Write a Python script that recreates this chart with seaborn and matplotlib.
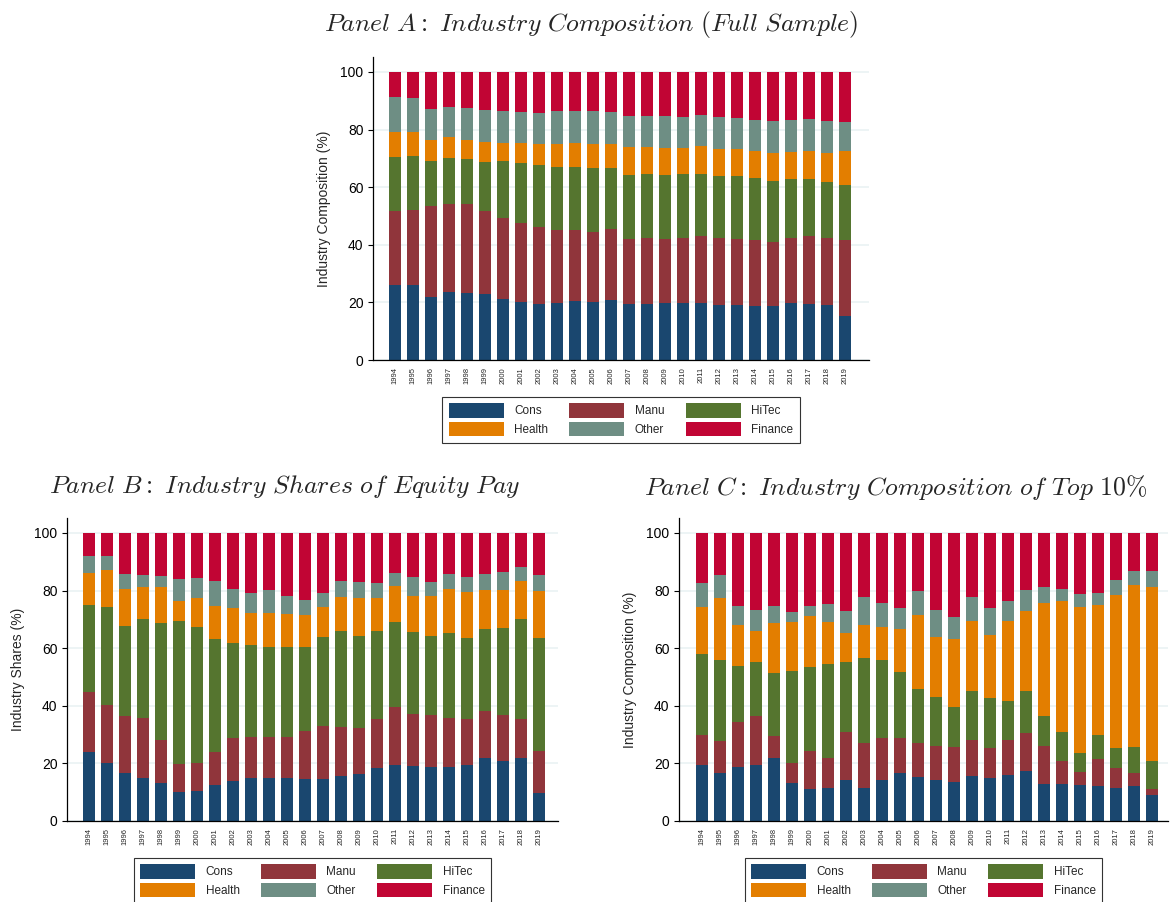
import numpy as np
import pandas as pd
import matplotlib
matplotlib.use("Agg")
import matplotlib.pyplot as plt
from matplotlib.patches import Patch
import seaborn as sns

sns.set_style("white")
plt.rcParams['font.family'] = ['Liberation Sans', 'DejaVu Sans']
plt.rcParams['mathtext.fontset'] = 'cm'

years = [str(y) for y in range(1994, 2020)]
industries = ["Cons", "Manu", "HiTec", "Health", "Other", "Finance"]
colors = ["#1a476f", "#90353b", "#55752f", "#e37e00", "#6e8e84", "#c10534"]

# Panel A: full sample (%)
a_cons = [26.0, 25.9, 22.0, 23.5, 23.2, 22.8, 21.3, 20.3, 19.5, 19.9, 20.6, 20.2, 20.9,
          19.3, 19.5, 19.7, 19.7, 19.8, 19.2, 19.1, 18.8, 18.8, 19.8, 19.5, 19.2, 15.4]
a_manu = [25.7, 26.2, 31.5, 30.5, 30.8, 28.9, 28.1, 27.2, 26.6, 25.2, 24.5, 24.2, 24.5,
          22.7, 22.8, 22.3, 22.7, 23.3, 23.2, 22.9, 22.8, 22.2, 22.6, 23.4, 23.3, 26.2]
a_hitec = [18.8, 18.9, 15.6, 16.3, 15.7, 17.1, 19.7, 20.9, 21.5, 21.8, 22.0, 22.3, 21.1,
           22.3, 22.3, 22.3, 22.1, 21.5, 21.6, 21.8, 21.6, 21.2, 20.3, 19.8, 19.3, 19.1]
a_health = [8.5, 8.2, 7.4, 7.0, 6.8, 6.9, 6.2, 6.9, 7.3, 8.2, 8.2, 8.4, 8.5,
            9.6, 9.2, 9.3, 9.0, 9.7, 9.4, 9.4, 9.3, 9.6, 9.6, 9.7, 10.0, 12.0]
a_other = [12.2, 11.8, 10.8, 10.7, 10.9, 11.0, 11.1, 10.7, 11.0, 11.3, 11.1, 11.3, 11.0,
           10.8, 10.9, 11.0, 10.8, 10.7, 11.0, 10.7, 11.0, 11.1, 11.1, 11.2, 11.3, 10.0]
a_finance = [8.8, 9.0, 12.7, 12.0, 12.6, 13.3, 13.6, 14.0, 14.1, 13.6, 13.6, 13.6, 14.0,
             15.3, 15.3, 15.4, 15.7, 15.0, 15.6, 16.1, 16.5, 17.1, 16.6, 16.4, 16.9, 17.3]

# Panel B: shares of equity pay (%)
b_cons = [24.0, 20.3, 16.7, 14.9, 13.2, 10.2, 10.4, 12.6, 13.9, 14.8, 15.0, 14.9, 14.7,
          14.7, 15.7, 16.4, 18.5, 19.4, 19.1, 18.6, 18.8, 19.4, 21.8, 20.9, 22.0, 9.6]
b_manu = [20.7, 20.1, 19.6, 21.0, 15.0, 9.7, 9.7, 11.5, 15.0, 14.4, 14.1, 14.3, 16.6,
          18.4, 16.9, 16.0, 16.9, 20.2, 18.2, 18.2, 17.1, 16.0, 16.5, 15.9, 13.3, 14.7]
b_hitec = [30.3, 33.9, 31.4, 34.4, 40.4, 49.5, 47.4, 39.0, 32.9, 31.9, 31.4, 31.2, 29.1,
           30.8, 33.4, 31.8, 30.6, 29.6, 28.4, 27.6, 29.4, 28.3, 28.4, 30.3, 34.8, 39.4]
b_health = [11.0, 12.7, 12.9, 10.8, 12.7, 6.9, 10.0, 11.7, 12.0, 11.0, 11.6, 11.5, 11.0,
            10.3, 11.8, 13.3, 11.5, 12.3, 12.5, 13.8, 15.1, 15.9, 13.5, 13.2, 13.2, 16.2]
b_other = [6.1, 5.1, 5.0, 4.4, 3.9, 7.7, 6.8, 8.5, 6.9, 7.1, 8.2, 6.1, 5.2,
           4.9, 5.5, 5.5, 5.3, 4.5, 6.5, 4.9, 5.4, 5.1, 5.6, 6.2, 4.9, 5.4]
b_finance = [7.9, 7.9, 14.4, 14.5, 14.8, 16.0, 15.7, 16.7, 19.3, 20.8, 19.7, 22.0, 23.4,
             20.9, 16.7, 17.0, 17.2, 14.0, 15.3, 16.9, 14.2, 15.3, 14.2, 13.5, 11.8, 14.7]

# Panel C: top 10% (%)
c_cons = [19.3, 16.7, 18.9, 19.6, 21.8, 13.2, 11.0, 11.3, 14.1, 11.3, 14.1, 16.7, 15.3,
          14.1, 13.4, 15.5, 15.1, 15.9, 17.2, 13.0, 13.0, 12.4, 12.0, 11.3, 12.0, 8.9]
c_manu = [10.7, 11.0, 15.4, 17.0, 7.6, 7.1, 13.2, 10.6, 16.7, 15.7, 14.8, 12.2, 11.7,
          12.1, 12.4, 12.5, 10.2, 12.1, 13.2, 13.2, 8.0, 4.7, 9.6, 7.0, 4.6, 2.1]
c_hitec = [28.1, 28.2, 19.6, 18.7, 21.9, 31.9, 29.2, 32.5, 24.5, 29.5, 26.9, 23.0, 18.8,
           17.0, 13.9, 17.3, 17.4, 13.7, 14.8, 10.4, 9.8, 6.6, 8.1, 6.9, 9.2, 9.9]
c_health = [16.1, 21.5, 14.3, 10.6, 17.3, 16.8, 17.9, 14.6, 10.0, 11.4, 11.4, 14.7, 25.8,
            20.7, 23.5, 24.3, 21.8, 27.9, 27.8, 39.0, 45.5, 50.6, 45.2, 53.2, 56.3, 60.5]
c_other = [8.6, 7.9, 6.5, 7.2, 6.1, 3.5, 3.5, 6.5, 7.5, 10.0, 8.5, 7.5, 8.1,
           9.5, 7.5, 8.2, 9.3, 6.8, 7.1, 5.6, 4.2, 4.5, 4.1, 5.4, 4.8, 5.5]
c_finance = [17.2, 14.7, 25.3, 26.9, 25.3, 27.5, 25.2, 24.5, 27.2, 22.1, 24.3, 25.9, 20.3,
             26.6, 29.3, 22.2, 26.2, 23.6, 19.9, 18.8, 19.5, 21.2, 21.0, 16.2, 13.1, 13.1]

W, H = 1172, 902
fig = plt.figure(figsize=(W / 100, H / 100), dpi=100)


def px_axes(left, top, right, bottom):
    return fig.add_axes([left / W, 1 - bottom / H, (right - left) / W, (bottom - top) / H])


def draw_panel(ax, series, ylabel, xlim, title, title_xy):
    df = pd.DataFrame(dict(zip(industries, series)), index=years)
    cum = df.cumsum(axis=1)
    ax.set_axisbelow(True)
    ax.yaxis.grid(True, color="#eaf2f3", linewidth=1.2)
    # draw from the top segment down so each stack layer shows
    for ind, col in reversed(list(zip(industries, colors))):
        sns.barplot(x=years, y=cum[ind].values, order=years, color=col,
                    saturation=1, width=0.67, ax=ax, errorbar=None, linewidth=0)
    ax.set_xlim(*xlim)
    ax.set_ylim(0, 105.2)
    ax.set_yticks([0, 20, 40, 60, 80, 100])
    ax.tick_params(axis="y", direction="out", length=3.8, width=0.8, labelsize=10, pad=3,
                   left=True, colors="black")
    ax.tick_params(axis="x", length=0, labelsize=5.5, pad=5, labelrotation=90)
    ax.set_xlabel("")
    ax.set_ylabel(ylabel, fontsize=10, labelpad=7)
    for s in ["top", "right"]:
        ax.spines[s].set_visible(False)
    for s in ["left", "bottom"]:
        ax.spines[s].set_color("black")
        ax.spines[s].set_linewidth(0.9)

    order = [0, 3, 1, 4, 2, 5]
    handles = [Patch(facecolor=colors[i], edgecolor="none") for i in order]
    labels = [industries[i] for i in order]
    bb = ax.get_position()
    ax.legend(handles, labels, ncol=3, loc="upper center",
              bbox_to_anchor=((bb.x0 + bb.x1) / 2, bb.y0 - 37 / H),
              bbox_transform=fig.transFigure, fontsize=8.5, handlelength=4.65,
              handleheight=1.45, handletextpad=0.9, columnspacing=1.8,
              labelspacing=0.42, borderpad=0.55, borderaxespad=0, fancybox=False,
              framealpha=1, edgecolor="#333333")
    ax.get_legend().get_frame().set_linewidth(0.8)

    fig.text(title_xy[0] / W, 1 - title_xy[1] / H, title, ha="center", va="center",
             fontsize=18.5)


ax_a = px_axes(373, 57, 869, 360)
draw_panel(ax_a, [a_cons, a_manu, a_hitec, a_health, a_other, a_finance],
           "Industry Composition (%)", (-1.22, 26.33),
           r"$\mathit{Panel\ A{:}\ Industry\ Composition\ (Full\ Sample)}$", (591, 25))

ax_b = px_axes(67, 518, 558, 821)
draw_panel(ax_b, [b_cons, b_manu, b_hitec, b_health, b_other, b_finance],
           "Industry Shares (%)", (-1.22, 26.05),
           r"$\mathit{Panel\ B{:}\ Industry\ Shares\ of\ Equity\ Pay}$", (285, 487))

ax_c = px_axes(679, 518, 1168, 821)
draw_panel(ax_c, [c_cons, c_manu, c_hitec, c_health, c_other, c_finance],
           "Industry Composition (%)", (-1.28, 25.9),
           r"$\mathit{Panel\ C{:}\ Industry\ Composition\ of\ Top\ 10\%}$", (896, 487))

fig.savefig("out.png", dpi=100)
